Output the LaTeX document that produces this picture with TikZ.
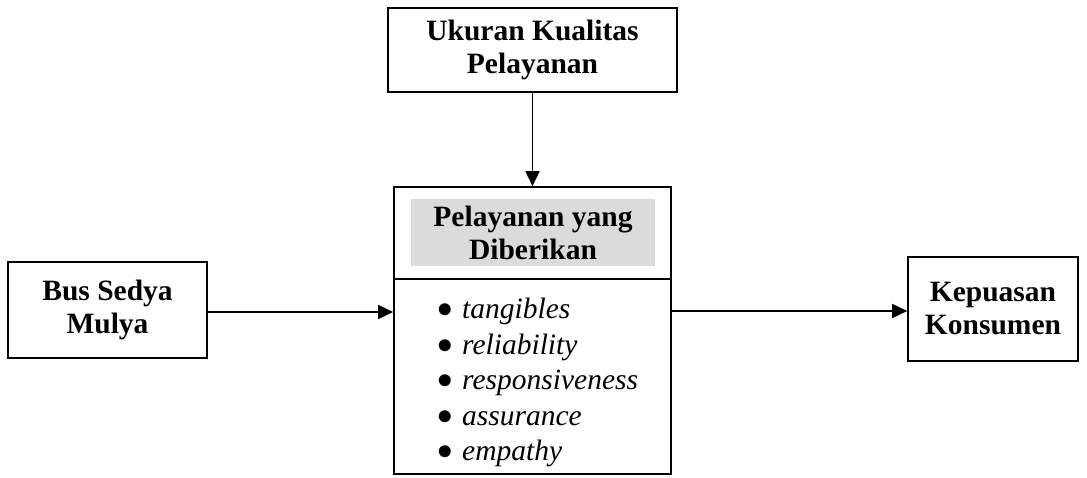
\documentclass[tikz,border=0pt]{standalone}
\usepackage{fontspec}
\setmainfont{Liberation Serif}
\usetikzlibrary{arrows.meta}
\newcommand{\titik}{\makebox[25pt][l]{\raisebox{1pt}{\scalebox{1.25}{$\bullet$}}}}
\tikzset{
  kotak/.style={draw, line width=1.6pt, align=center, inner sep=0pt,
    font=\bfseries\fontsize{29.5}{33}\selectfont},
  panah/.style={line width=1.6pt, -{Triangle[length=15pt,width=14pt]}}
}
\begin{document}
\begin{tikzpicture}[x=1pt,y=1pt]
	\useasboundingbox (0,0) rectangle (1087,477);
	
	\node[kotak, minimum width=289pt, minimum height=84pt] (ukuran) at (532.5,427) {Ukuran Kualitas\\Pelayanan};
	\node[kotak, minimum width=277pt, minimum height=287pt] (pelayanan) at (532.5,146.5) {};
	\node[kotak, minimum width=199pt, minimum height=96pt] (bus) at (107.5,167) {Bus Sedya\\Mulya};
	\node[kotak, minimum width=170pt, minimum height=104pt] (kepuasan) at (993,168) {Kepuasan\\Konsumen};
	
	\node[kotak, draw=none, fill=black!14, minimum width=244pt, minimum height=67pt] (judul) at (533,244.5) {Pelayanan yang\\Diberikan};
	\coordinate (garis) at (0,198);
	\draw[line width=1.6pt] (pelayanan.west |- garis) -- (pelayanan.east |- garis);
	
	\node[anchor=west, align=left, inner sep=0pt, font=\fontsize{29.5}{35.5}\selectfont] (dimensi) at (437,94.5)
		{\titik\textit{tangibles}\\
		 \titik\textit{reliability}\\
		 \titik\textit{responsiveness}\\
		 \titik\textit{assurance}\\
		 \titik\textit{empathy}};
	
	\draw[panah] (ukuran) -- (pelayanan);
	\draw[panah] (bus.east |- 0,165) -- (pelayanan.west |- 0,165);
	\draw[panah] (pelayanan.east |- 0,166) -- (kepuasan.west |- 0,166);
\end{tikzpicture}
\end{document}
